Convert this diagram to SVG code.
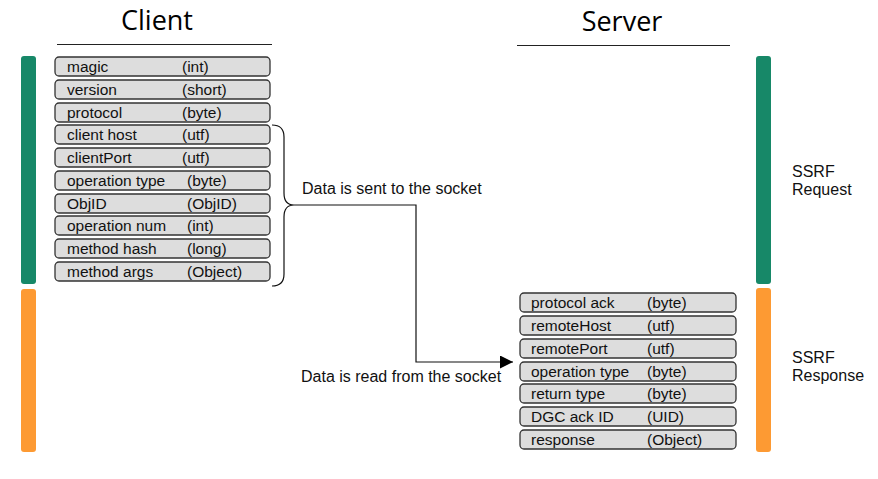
<svg xmlns="http://www.w3.org/2000/svg" width="878" height="479" viewBox="0 0 878 479">
<defs>
<style>
.title{font-family:"Open Sans","Noto Sans",sans-serif;font-size:27px;fill:#000;text-anchor:middle}
.rule{stroke:#222;stroke-width:1.2;fill:none}
.row rect{fill:#dddddd;stroke:#333;stroke-width:1.3}
.row text{font-family:"Liberation Sans",Arial,sans-serif;font-size:15.5px;fill:#111}
.lbl{font-family:"Liberation Sans",Arial,sans-serif;font-size:16px;fill:#111}
.green{fill:#178868}
.orange{fill:#fd9a33}
.conn{stroke:#111;stroke-width:1.2;fill:none}
</style>
<marker id="arr" viewBox="0 0 10 10" refX="10" refY="5" markerWidth="13" markerHeight="13" markerUnits="userSpaceOnUse" orient="auto">
<path d="M0,0 L10,5 L0,10 Z" fill="#000"/>
</marker>
</defs>
<rect width="878" height="479" fill="#fff"/>

<g id="titles">
<text class="title" x="157" y="30">Client</text>
<line class="rule" x1="57" y1="44.5" x2="272" y2="44.5"/>
<text class="title" x="622" y="31">Server</text>
<line class="rule" x1="517" y1="45.5" x2="730" y2="45.5"/>
</g>

<g id="bars">
<rect class="green" x="21" y="56" width="15" height="228" rx="3"/>
<rect class="orange" x="21" y="289" width="15" height="163" rx="3"/>
<rect class="green" x="756" y="56" width="15" height="228" rx="3"/>
<rect class="orange" x="756" y="288" width="15" height="164" rx="3"/>
</g>

<g id="client-fields">
<g class="row" id="c-magic"><rect x="55" y="57" width="215" height="19" rx="4"/><text x="67" y="72">magic</text><text x="182" y="72">(int)</text></g>
<g class="row" id="c-version"><rect x="55" y="80" width="215" height="19" rx="4"/><text x="67" y="95">version</text><text x="182" y="95">(short)</text></g>
<g class="row" id="c-protocol"><rect x="55" y="103" width="215" height="19" rx="4"/><text x="67" y="118">protocol</text><text x="182" y="118">(byte)</text></g>
<g class="row" id="c-clienthost"><rect x="55" y="125" width="215" height="19" rx="4"/><text x="67" y="140">client host</text><text x="182" y="140">(utf)</text></g>
<g class="row" id="c-clientport"><rect x="55" y="148" width="215" height="19" rx="4"/><text x="67" y="163">clientPort</text><text x="182" y="163">(utf)</text></g>
<g class="row" id="c-optype"><rect x="55" y="171" width="215" height="19" rx="4"/><text x="67" y="186">operation type</text><text x="187" y="186">(byte)</text></g>
<g class="row" id="c-objid"><rect x="55" y="194" width="215" height="19" rx="4"/><text x="67" y="209">ObjID</text><text x="187" y="209">(ObjID)</text></g>
<g class="row" id="c-opnum"><rect x="55" y="216" width="215" height="19" rx="4"/><text x="67" y="231">operation num</text><text x="187" y="231">(int)</text></g>
<g class="row" id="c-hash"><rect x="55" y="239" width="215" height="19" rx="4"/><text x="67" y="254">method hash</text><text x="187" y="254">(long)</text></g>
<g class="row" id="c-args"><rect x="55" y="262" width="215" height="19" rx="4"/><text x="67" y="277">method args</text><text x="187" y="277">(Object)</text></g>
</g>

<g id="server-fields">
<g class="row" id="s-protoack"><rect x="520" y="293" width="216" height="19" rx="4"/><text x="531" y="308">protocol ack</text><text x="647" y="308">(byte)</text></g>
<g class="row" id="s-remotehost"><rect x="520" y="316" width="216" height="19" rx="4"/><text x="531" y="331">remoteHost</text><text x="647" y="331">(utf)</text></g>
<g class="row" id="s-remoteport"><rect x="520" y="339" width="216" height="19" rx="4"/><text x="531" y="354">remotePort</text><text x="647" y="354">(utf)</text></g>
<g class="row" id="s-optype"><rect x="520" y="362" width="216" height="19" rx="4"/><text x="531" y="377">operation type</text><text x="647" y="377">(byte)</text></g>
<g class="row" id="s-rettype"><rect x="520" y="384" width="216" height="19" rx="4"/><text x="531" y="399">return type</text><text x="647" y="399">(byte)</text></g>
<g class="row" id="s-dgc"><rect x="520" y="407" width="216" height="19" rx="4"/><text x="531" y="422">DGC ack ID</text><text x="647" y="422">(UID)</text></g>
<g class="row" id="s-response"><rect x="520" y="430" width="216" height="19" rx="4"/><text x="531" y="445">response</text><text x="647" y="445">(Object)</text></g>
</g>

<g id="connectors">
<path class="conn" d="M272,125 Q284,125 284,137 L284,193 Q284,205 294,205 Q284,205 284,217 L284,274 Q284,286 272,286"/>
<path class="conn" d="M294,205 L416,205 L416,362 L513,362" marker-end="url(#arr)"/>
</g>

<g id="labels">
<text class="lbl" x="302" y="194">Data is sent to the socket</text>
<text class="lbl" x="301" y="382">Data is read from the socket</text>
<text class="lbl" x="792" y="177">SSRF</text>
<text class="lbl" x="792" y="195">Request</text>
<text class="lbl" x="792" y="363">SSRF</text>
<text class="lbl" x="792" y="381">Response</text>
</g>
</svg>
